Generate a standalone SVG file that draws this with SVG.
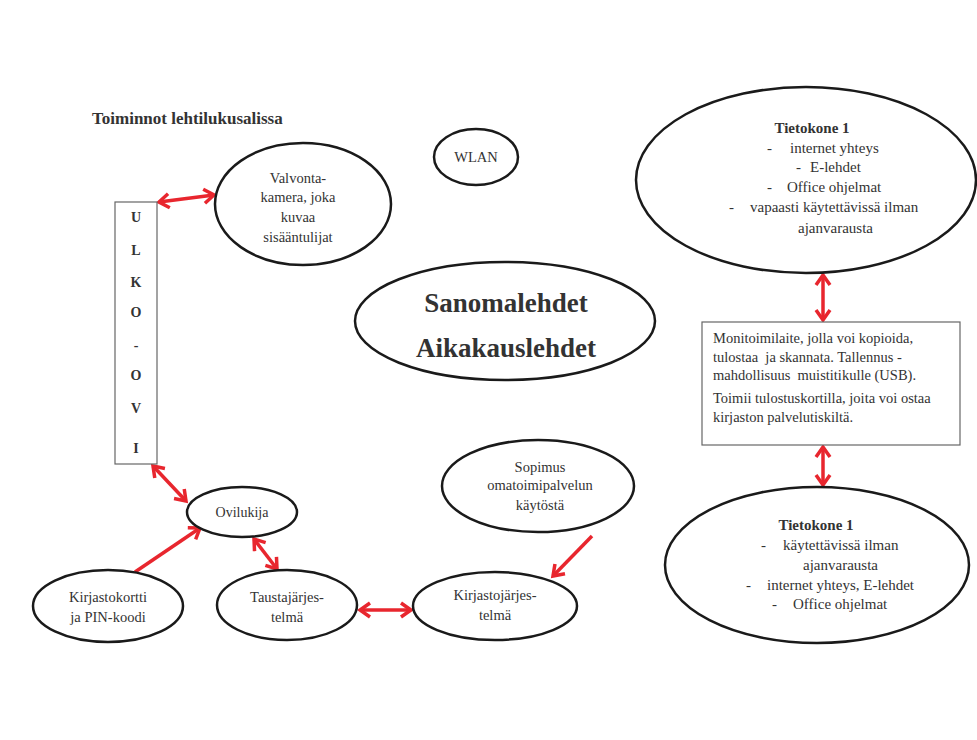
<svg xmlns="http://www.w3.org/2000/svg" width="977" height="740" viewBox="0 0 977 740">
<style>
  .bg{fill:#ffffff}
  .node{fill:#ffffff;stroke:#1a1a1a;stroke-width:2.5}
  .box{fill:#ffffff;stroke:#666;stroke-width:1.2}
  .t{font-family:'Liberation Serif','DejaVu Serif',serif;font-size:14.5px;fill:#333}
  .c{text-anchor:middle}
  .b{font-weight:bold}
  .conn{stroke:#e8262e;stroke-width:3.5;fill:none;marker-end:url(#ah)}
  .dbl{marker-start:url(#ah)}
</style>
<defs>
  <marker id="ah" markerUnits="userSpaceOnUse" markerWidth="20" markerHeight="20" refX="13" refY="9" orient="auto-start-reverse" viewBox="0 0 20 20">
    <path d="M3,2 L13,9 L3,16" fill="none" stroke="#e8262e" stroke-width="3.5" stroke-linejoin="miter"/>
  </marker>
</defs>
<rect class="bg" x="0" y="0" width="977" height="740"/>

<text id="title" class="t b" x="92" y="124" style="font-size:17px">Toiminnot lehtilukusalissa</text>

<g id="connectors">
  <line class="conn dbl" x1="159" y1="202" x2="214" y2="195"/>
  <line class="conn dbl" x1="153" y1="466" x2="186" y2="501"/>
  <line class="conn" x1="135" y1="572" x2="200" y2="528"/>
  <line class="conn dbl" x1="254" y1="539" x2="277" y2="569"/>
  <line class="conn dbl" x1="360" y1="610" x2="411" y2="610"/>
  <line class="conn" x1="592" y1="536" x2="553" y2="576"/>
  <line class="conn dbl" x1="823" y1="275" x2="823" y2="320"/>
  <line class="conn dbl" x1="823" y1="447" x2="823" y2="485"/>
</g>

<g id="ulko-ovi">
  <rect class="box" x="115" y="202" width="42" height="262"/>
  <g class="t b c" style="font-size:14px">
    <text x="136" y="222">U</text>
    <text x="136" y="255">L</text>
    <text x="136" y="287">K</text>
    <text x="136" y="317">O</text>
    <text x="136" y="350">-</text>
    <text x="136" y="380">O</text>
    <text x="136" y="413">V</text>
    <text x="136" y="453">I</text>
  </g>
</g>

<g id="valvontakamera">
  <ellipse class="node" cx="303" cy="204" rx="88" ry="61"/>
  <text class="t c" x="298" y="183">Valvonta-</text>
  <text class="t c" x="298" y="202">kamera, joka</text>
  <text class="t c" x="298" y="222">kuvaa</text>
  <text class="t c" x="298" y="242">sisääntulijat</text>
</g>

<g id="wlan">
  <ellipse class="node" cx="476" cy="157" rx="42" ry="28"/>
  <text class="t c" x="476" y="162">WLAN</text>
</g>

<g id="lehdet">
  <ellipse class="node" cx="505" cy="321" rx="150" ry="59"/>
  <text class="t b c" x="506" y="312" style="font-size:27px">Sanomalehdet</text>
  <text class="t b c" x="506" y="357" style="font-size:27px">Aikakauslehdet</text>
</g>

<g id="tietokone-top" style="font-size:15px">
  <ellipse class="node" cx="806" cy="180" rx="170" ry="93"/>
  <text class="t b c" x="812" y="133" style="font-size:15px">Tietokone 1</text>
  <text class="t" x="767" y="153" style="font-size:15px">-</text>
  <text class="t" x="790" y="153" style="font-size:15px">internet yhteys</text>
  <text class="t" x="796" y="172" style="font-size:15px">-</text>
  <text class="t" x="810" y="172" style="font-size:15px">E-lehdet</text>
  <text class="t" x="767" y="192" style="font-size:15px">-</text>
  <text class="t" x="787" y="192" style="font-size:15px">Office ohjelmat</text>
  <text class="t" x="729" y="212" style="font-size:15px">-</text>
  <text class="t" x="750" y="212" style="font-size:15px">vapaasti käytettävissä ilman</text>
  <text class="t" x="798" y="233" style="font-size:15px">ajanvarausta</text>
</g>

<g id="monitoimilaite">
  <rect class="box" x="702" y="322" width="258" height="123"/>
  <text class="t" x="713" y="343">Monitoimilaite, jolla voi kopioida,</text>
  <text class="t" x="713" y="362" xml:space="preserve">tulostaa  ja skannata. Tallennus -</text>
  <text class="t" x="713" y="380" xml:space="preserve">mahdollisuus  muistitikulle (USB).</text>
  <text class="t" x="713" y="403">Toimii tulostuskortilla, joita voi ostaa</text>
  <text class="t" x="713" y="422">kirjaston palvelutiskiltä.</text>
</g>

<g id="tietokone-bottom">
  <ellipse class="node" cx="817" cy="565" rx="152" ry="78"/>
  <text class="t b c" x="816" y="530" style="font-size:15px">Tietokone 1</text>
  <text class="t" x="761" y="550" style="font-size:15px">-</text>
  <text class="t" x="783" y="550" style="font-size:15px">käytettävissä ilman</text>
  <text class="t" x="803" y="570" style="font-size:15px">ajanvarausta</text>
  <text class="t" x="746" y="590" style="font-size:15px">-</text>
  <text class="t" x="767" y="590" style="font-size:15px">internet yhteys, E-lehdet</text>
  <text class="t" x="772" y="609" style="font-size:15px">-</text>
  <text class="t" x="793" y="609" style="font-size:15px">Office ohjelmat</text>
</g>

<g id="ovilukija">
  <ellipse class="node" cx="242" cy="512" rx="55" ry="25"/>
  <text class="t c" x="242" y="517" style="font-size:14px">Ovilukija</text>
</g>

<g id="kirjastokortti">
  <ellipse class="node" cx="108" cy="606" rx="75" ry="36"/>
  <text class="t c" x="108" y="602">Kirjastokortti</text>
  <text class="t c" x="108" y="622">ja PIN-koodi</text>
</g>

<g id="taustajarjestelma">
  <ellipse class="node" cx="287" cy="605" rx="70" ry="35"/>
  <text class="t c" x="287" y="602">Taustajärjes-</text>
  <text class="t c" x="287" y="622">telmä</text>
</g>

<g id="kirjastojarjestelma">
  <ellipse class="node" cx="495" cy="606" rx="82" ry="34"/>
  <text class="t c" x="495" y="600">Kirjastojärjes-</text>
  <text class="t c" x="495" y="620">telmä</text>
</g>

<g id="sopimus">
  <ellipse class="node" cx="538" cy="486" rx="96" ry="46"/>
  <text class="t c" x="540" y="472">Sopimus</text>
  <text class="t c" x="540" y="490">omatoimipalvelun</text>
  <text class="t c" x="540" y="510">käytöstä</text>
</g>
</svg>
